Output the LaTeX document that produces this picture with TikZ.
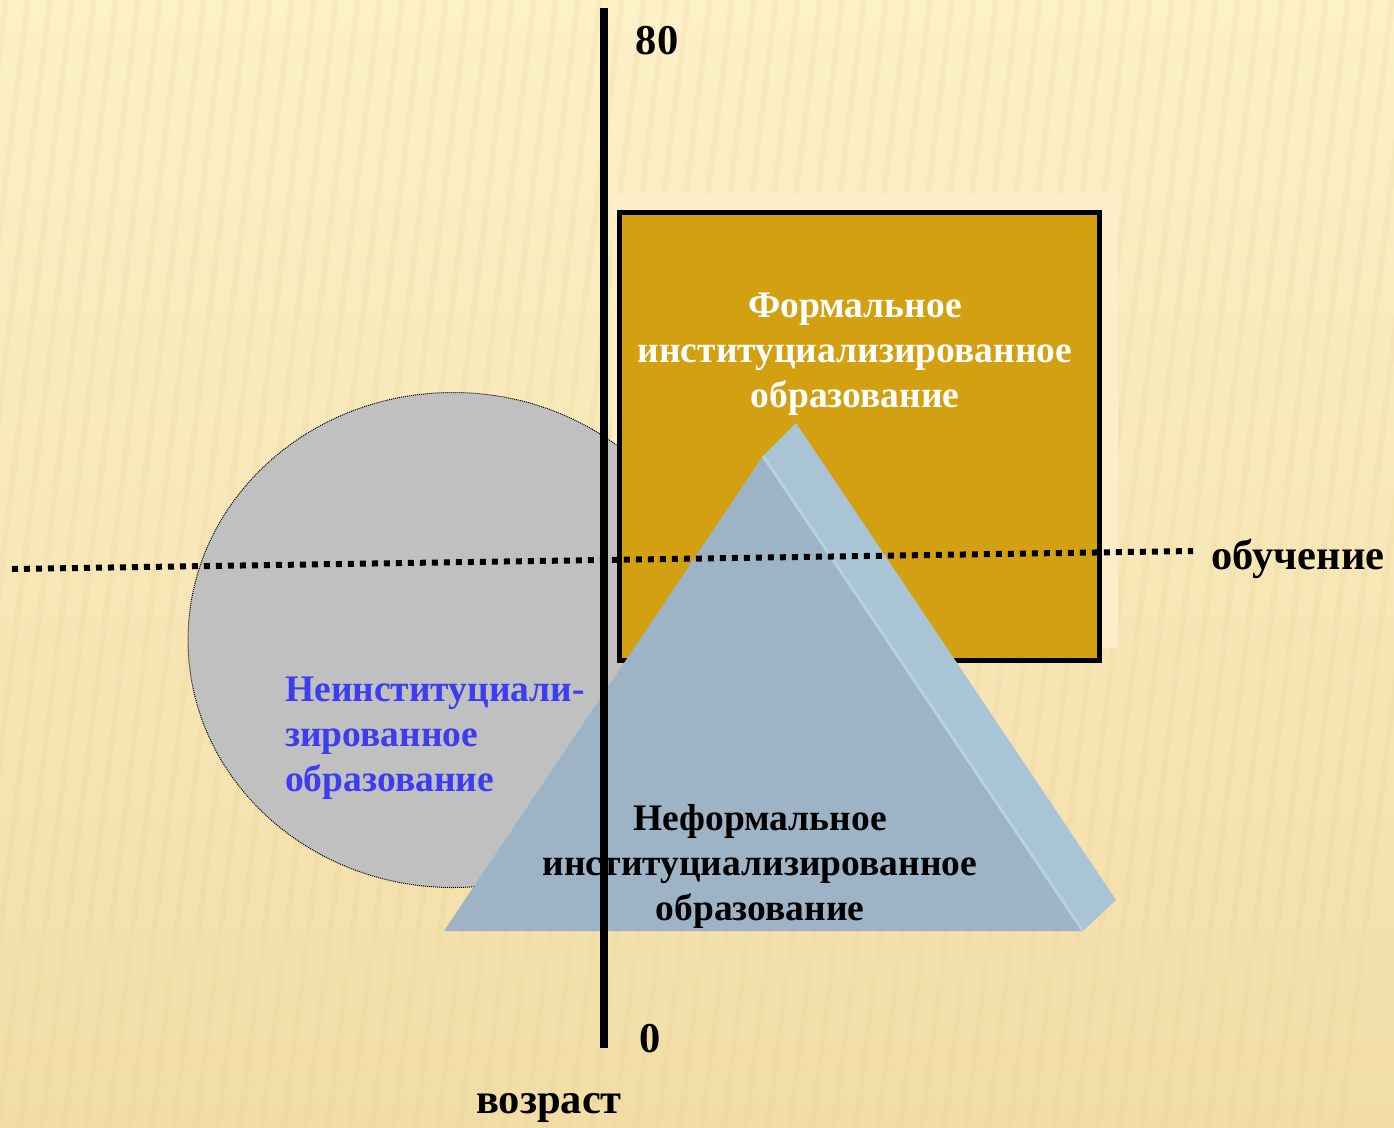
\documentclass[tikz,border=0pt]{standalone}
\usepackage{fontspec}
\setmainfont{Liberation Serif}
\usetikzlibrary{shapes.geometric}
\definecolor{bgtop}{HTML}{FDF1C8}
\definecolor{bgbot}{HTML}{F2DDA6}
\definecolor{stripe}{HTML}{E9D196}
\definecolor{shadowrect}{HTML}{FCEECB}
\definecolor{gold}{HTML}{D3A012}
\definecolor{circgray}{HTML}{C0C0C0}
\definecolor{pyrfront}{HTML}{9DB4C6}
\definecolor{pyrside}{HTML}{A9C5D5}
\definecolor{pyredge}{HTML}{B6D2E0}
\definecolor{bluetxt}{HTML}{3C3CF0}
\tikzset{
  bigtxt/.style={font=\fontsize{37.5}{45}\selectfont\bfseries, inner sep=0pt},
  axislbl/.style={font=\fontsize{42.5}{50}\selectfont\bfseries, inner sep=0pt},
  axisline/.style={line width=8pt},
  dotline/.style={line width=6pt, dash pattern=on 6pt off 6pt},
}
\begin{document}
\begin{tikzpicture}[x=1pt,y=-1pt]
\useasboundingbox (0,0) rectangle (1394,1127);
% background
\shade[top color=bgtop, bottom color=bgbot] (0,0) rectangle (1394,1127);
\foreach \i in {0,...,70} {
  \draw[stripe, line width=6pt, opacity=0.2] (\i*22-200,1127) -- (\i*22-60,0);
}
% shadow rectangle
\fill[shadowrect] (612,193) rectangle (1118,648);
% circle
\node[ellipse, draw=black, densely dotted, line width=1pt, fill=circgray,
      minimum width=530pt, minimum height=495pt, inner sep=0pt] (circ) at (453,640) {};
% gold rectangle
\node[draw=black, line width=5pt, fill=gold, minimum width=480pt, minimum height=448pt,
      inner sep=0pt] (rect) at (859,436) {};
% pyramid
\coordinate (apex) at (763,456);
\coordinate (bl) at (444,931);
\coordinate (br) at (1083,931);
\coordinate (sapex) at (796,423);
\coordinate (sbr) at (1116,900);
\fill[pyrside] (apex) -- (sapex) -- (sbr) -- (br) -- cycle;
\fill[pyrfront] (apex) -- (br) -- (bl) -- cycle;
\draw[pyredge, line width=3pt] (apex) -- (br);
% texts
\node[bigtxt, white, align=center] (ftxt) at (855,354)
  {Формальное\\институциализированное\\образование};
\node[bigtxt, black, align=center] (ntxt) at (760,866)
  {Неформальное\\институциализированное\\образование};
\node[bigtxt, bluetxt, align=left, anchor=west] (ctxt) at (285,738)
  {Неинституциали-\\зированное\\образование};
% dotted axis
\coordinate (hl) at (12,569);
\coordinate (hr) at (1193,551);
\draw[dotline] (hl) -- (hr);
% vertical axis
\coordinate (vtop) at (604,8);
\coordinate (vbot) at (604,1048);
\draw[axisline] (vtop) -- (vbot);
% labels
\node[axislbl] (l80) at (657,41) {80};
\node[axislbl] (l0) at (650,1039) {0};
\node[axislbl] (lage) at (549,1108) {возраст};
\node[axislbl] (llearn) at (1298,559) {обучение};
\end{tikzpicture}
\end{document}
